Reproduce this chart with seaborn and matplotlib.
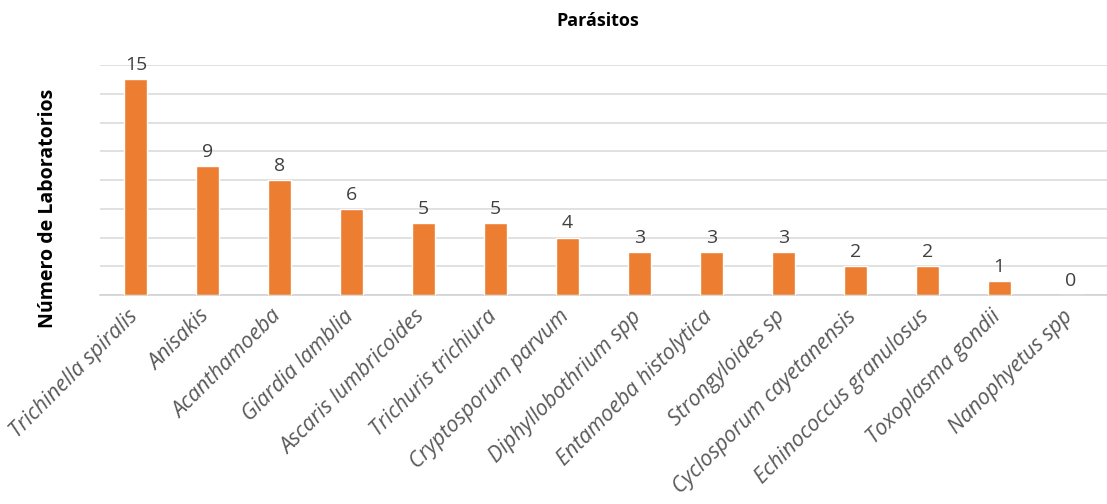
import matplotlib
matplotlib.use("Agg")
import matplotlib.pyplot as plt
import matplotlib.transforms as mtransforms
import seaborn as sns
import pandas as pd

parasitos = [
    "Trichinella spiralis", "Anisakis", "Acanthamoeba", "Giardia lamblia",
    "Ascaris lumbricoides", "Trichuris trichiura", "Cryptosporum parvum",
    "Diphyllobothrium spp", "Entamoeba histolytica", "Strongyloides sp",
    "Cyclosporum cayetanensis", "Echinococcus granulosus", "Toxoplasma gondii",
    "Nanophyetus spp",
]
laboratorios = [15, 9, 8, 6, 5, 5, 4, 3, 3, 3, 2, 2, 1, 0]

df = pd.DataFrame({"parasito": parasitos, "n": laboratorios})

sns.set_theme(style="white")
plt.rcParams["font.family"] = ["Open Sans", "DejaVu Sans"]

fig = plt.figure(figsize=(11.07, 5.04), dpi=100)
ax = fig.add_axes([100 / 1107, 209 / 504, 1007 / 1107, 230 / 504])

sns.barplot(data=df, x="parasito", y="n", color="#ED7D31", width=0.32,
            saturation=1, ax=ax, zorder=3)

ax.set_ylim(0, 16)
ax.set_yticks(range(0, 17, 2))
ax.set_yticklabels([])
ax.tick_params(axis="y", length=0)
ax.tick_params(axis="x", length=0, pad=8)
ax.yaxis.grid(True, color="#d9d9d9", linewidth=1.1, zorder=0)
ax.set_axisbelow(True)
for s in ["top", "right", "left"]:
    ax.spines[s].set_visible(False)
ax.spines["bottom"].set_color("#d0d0d0")
ax.spines["bottom"].set_linewidth(1.1)

ax.set_xticks(range(len(parasitos)))
ax.set_xticklabels(parasitos, rotation=45, ha="right", rotation_mode="anchor",
                   fontsize=15.5, style="italic", color="#595959")
# nudge the slanted labels a little to the left of each bar
shift = mtransforms.ScaledTranslation(-9 / 100, 0, fig.dpi_scale_trans)
for lbl in ax.get_xticklabels():
    lbl.set_transform(lbl.get_transform() + shift)

for i, v in enumerate(laboratorios):
    ax.text(i, v + 0.35, str(v), ha="center", va="bottom",
            fontsize=14, color="#404040")

ax.set_xlabel("")
ax.set_ylabel("Número de Laboratorios", fontsize=14, fontweight="bold",
              color="black")
ax.yaxis.set_label_coords(-0.042, 0.375)
fig.text(0.54, 0.958, "Parásitos", ha="center", va="center",
         fontsize=13, fontweight="bold", color="black")

fig.savefig("out.png", dpi=100)
